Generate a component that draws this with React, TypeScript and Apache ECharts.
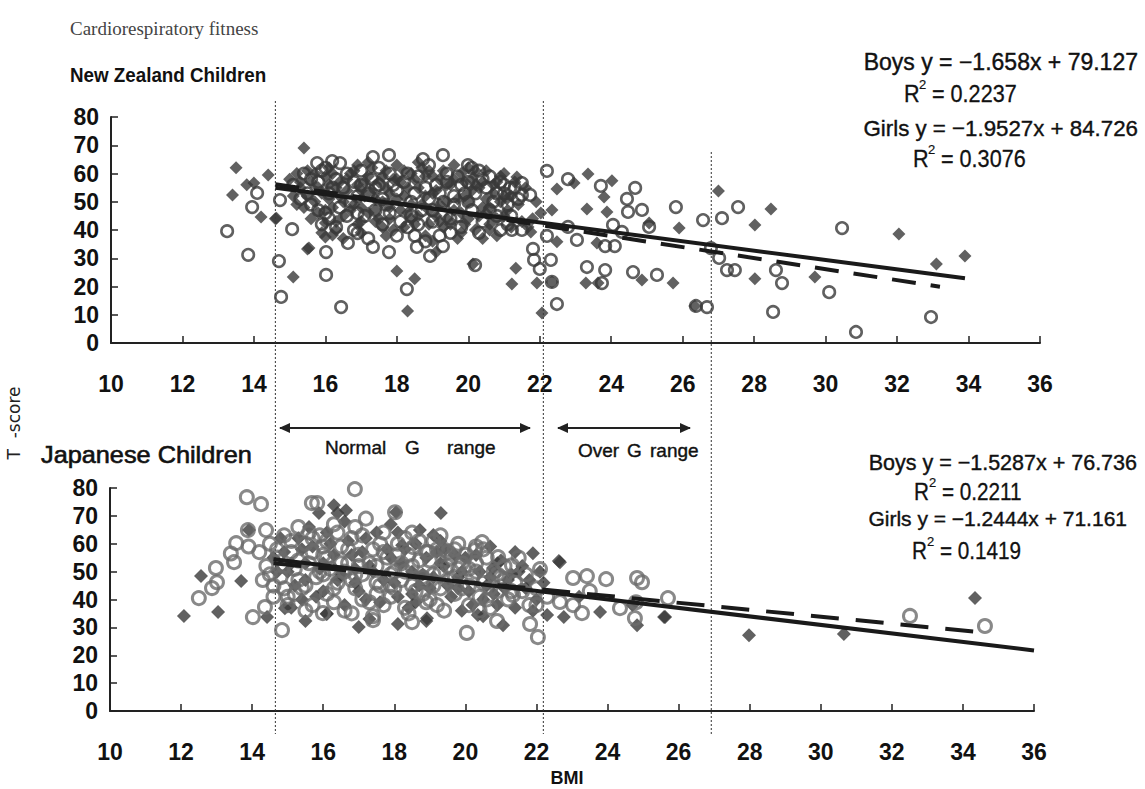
import React, { useEffect, useRef } from "react";
import * as echarts from "echarts";

// ---------- DATA ----------
// New Zealand children: [BMI, T-score]
const nzBoys: number[][] = [
  [13.5, 62], [13.4, 52.4], [13.8, 56], [14.2, 44.6], [14.6, 44], [14.4, 59.5], [14.0, 56.6],
  [15.4, 69], [15.1, 23.4], [15.5, 33.3], [16.0, 42.5], [16.0, 37.5], [16.2, 38.2],
  [18.0, 25.5], [18.5, 22.7], [18.3, 11.3], [19.1, 32.2], [21.36, 58.8], [21.08, 51],
  [22.48, 54.5], [23.35, 59.8], [22.96, 56.6], [24.02, 57.4], [23.8, 51.7], [23.32, 47.4],
  [22.34, 47.1], [23.88, 46.4], [22.03, 46], [22.48, 35.8], [23.6, 35.4], [21.33, 26.5],
  [21.22, 20.9], [21.92, 21.2], [22.34, 21.6], [22.06, 10.6], [23.29, 21.2], [23.63, 21.2],
  [24.86, 22.3], [25.73, 21.2], [25.9, 40.7], [25.06, 42.5], [27.0, 53.8], [28.47, 47.4],
  [28.02, 41.8], [28.02, 22.7], [29.7, 23.4], [26.34, 13.1], [20.13, 28.0], [21.67, 41.1],
  [21.75, 39.3], [32.05, 38.6], [33.1, 28.0], [33.9, 30.8], [14.63, 44.2], [15.54, 33.6],
  [15.0, 58], [15.2, 60], [15.3, 55], [15.5, 61], [15.6, 57], [15.7, 50], [15.8, 46], [15.6, 44],
  [15.9, 53], [16.0, 59], [16.1, 62], [16.2, 48], [16.3, 55], [16.4, 52], [16.5, 45], [16.6, 58],
  [16.7, 60], [16.8, 49], [16.9, 42], [17.0, 54], [17.1, 57], [17.2, 46], [17.3, 62], [17.4, 51],
  [17.5, 44], [17.6, 59], [17.7, 55], [17.8, 48], [17.9, 40], [18.0, 63], [18.1, 57], [18.2, 52],
  [18.3, 46], [18.4, 60], [18.5, 42], [18.6, 55], [18.7, 49], [18.8, 38], [18.9, 61], [19.0, 53],
  [19.1, 45], [19.2, 58], [19.3, 41], [19.4, 50], [19.5, 56], [19.6, 47], [19.7, 37], [19.8, 60],
  [19.9, 52], [20.0, 44], [20.1, 58], [20.2, 40], [20.3, 55], [20.4, 48], [20.5, 61], [20.6, 42],
  [20.7, 53], [20.8, 38], [20.9, 50], [21.0, 45], [21.2, 52], [21.5, 43], [21.8, 44], [16.5, 37],
  [17.0, 39], [17.4, 43], [18.2, 41], [19.0, 36], [19.8, 39], [20.4, 37], [15.4, 48], [16.1, 51],
  [17.8, 53], [18.8, 59], [19.6, 63], [20.2, 56], [20.8, 57], [15.1, 52], [16.3, 43], [17.6, 41],
  [17.2, 64], [18.0, 58], [19.4, 44], [20.5, 46], [16.9, 63], [18.6, 64], [20.0, 62], [21.0, 60],
  [15.2, 49], [15.3, 57], [15.5, 52], [15.7, 60], [15.8, 55], [16.0, 47], [16.1, 56], [16.2, 60],
  [16.4, 57], [16.5, 50], [16.6, 54], [16.7, 47], [16.8, 61], [16.9, 56], [17.0, 48], [17.1, 52],
  [17.2, 59], [17.3, 54], [17.4, 47], [17.5, 57], [17.6, 50], [17.7, 61], [17.8, 44], [17.9, 58],
  [18.0, 51], [18.1, 47], [18.2, 61], [18.3, 55], [18.4, 49], [18.5, 58], [18.6, 45], [18.7, 62],
  [18.8, 52], [18.9, 47], [19.0, 59], [19.1, 54], [19.2, 49], [19.3, 61], [19.4, 56], [19.5, 42],
  [19.6, 58], [19.7, 51], [19.8, 46], [19.9, 57], [20.0, 50], [20.1, 54], [20.2, 61], [20.3, 45],
  [20.4, 57], [20.5, 51], [20.6, 48], [20.7, 56], [20.8, 44], [20.9, 59], [21.0, 52], [21.1, 47],
  [21.3, 57], [21.4, 49], [21.6, 55], [21.9, 50], [16.3, 40], [17.0, 43], [17.7, 38], [18.4, 44],
  [19.2, 43], [19.9, 42], [20.6, 40], [21.2, 41], [15.9, 39], [18.9, 42]
];
const nzGirls: number[][] = [
  [13.25, 39.6], [13.84, 31.2], [13.95, 48.1], [14.09, 53.1], [14.7, 29], [14.76, 16.3],
  [15.07, 40.3], [16.02, 32.2], [16.02, 24.1], [16.44, 12.7], [16.63, 35.4], [17.33, 34],
  [17.78, 32.2], [18.28, 19.1], [18.56, 34], [18.93, 30.8], [19.29, 34.3], [16.9, 38.9],
  [17.33, 65.8], [17.78, 66.5], [18.73, 65.1], [19.29, 66.5], [15.77, 63.7], [16.19, 64.4],
  [16.41, 63.7], [14.73, 50.6], [19.99, 63], [22.2, 60.9], [22.79, 58], [23.71, 55.6],
  [24.67, 54.9], [24.44, 51], [24.47, 46.4], [24.86, 47.1], [25.06, 41.1], [24.05, 41.8],
  [24.3, 39.3], [23.83, 34.3], [24.1, 34.3], [25.81, 48.1], [26.57, 43.5], [27.1, 44.2],
  [27.55, 48.1], [26.79, 33.6], [27.02, 30.1], [27.24, 25.8], [27.46, 25.8], [28.61, 25.8],
  [28.78, 21.2], [28.53, 11.0], [26.68, 12.7], [26.37, 13.1], [25.28, 24.1], [24.61, 25.1],
  [23.83, 25.8], [23.74, 21.2], [23.32, 26.9], [22.48, 13.8], [22.34, 21.6], [22.31, 29.4],
  [21.81, 33.3], [21.84, 29.4], [22.0, 26.2], [22.2, 37.9], [22.79, 41.1], [23.04, 36.5],
  [21.22, 40], [21.5, 40], [20.19, 27.6], [21.5, 52.4], [21.73, 52.4], [21.17, 54.9],
  [21.5, 56.6], [30.46, 40.7], [30.1, 18], [30.85, 3.9], [32.95, 9.2],
  [15.3, 51], [15.6, 58], [15.9, 61], [16.2, 55], [16.4, 48], [16.6, 60], [16.9, 52], [17.1, 45],
  [17.3, 58], [17.5, 62], [17.7, 49], [17.9, 56], [18.1, 43], [18.3, 60], [18.5, 53], [18.7, 47],
  [18.9, 63], [19.1, 56], [19.3, 50], [19.5, 44], [19.7, 59], [19.9, 53], [20.1, 47], [20.3, 61],
  [20.5, 55], [20.7, 50], [20.9, 57], [21.1, 49], [21.3, 55], [16.0, 46], [16.8, 40], [17.4, 47],
  [18.0, 38], [18.6, 42], [19.2, 38], [19.8, 41], [20.4, 43], [20.8, 45], [15.5, 53], [17.0, 56],
  [18.4, 50], [19.6, 49], [20.0, 57], [17.8, 46], [16.3, 41], [18.8, 36], [21.0, 53], [19.4, 60],
  [20.6, 59], [15.8, 47],
  [15.1, 56], [15.4, 60], [15.6, 49], [15.8, 57], [16.0, 62], [16.1, 53], [16.3, 58], [16.5, 55],
  [16.7, 50], [16.8, 57], [17.0, 61], [17.2, 53], [17.4, 55], [17.6, 51], [17.8, 60], [18.0, 54],
  [18.2, 57], [18.4, 45], [18.6, 59], [18.8, 55], [19.0, 47], [19.2, 53], [19.4, 57], [19.6, 52],
  [19.8, 56], [20.0, 50], [20.2, 53], [20.4, 58], [20.6, 47], [20.8, 53], [21.0, 56], [21.2, 45],
  [21.4, 51], [16.1, 44], [16.9, 46], [17.6, 42], [18.3, 41], [19.0, 43], [19.7, 45], [20.3, 39],
  [21.1, 42], [17.2, 37], [18.5, 38], [19.5, 39], [20.9, 40], [15.9, 42], [17.5, 56], [18.9, 51],
  [20.1, 62], [16.6, 45]
];

// Japanese children: [BMI, T-score]
const jpBoys: number[][] = [
  [12.08, 34.1], [13.04, 35.5], [12.56, 48.4], [13.69, 46.6], [13.91, 64.9], [14.42, 33.7],
  [16.3, 73.8], [16.64, 72], [15.88, 71], [18.05, 71.3], [17.0, 30.1], [18.1, 31.2], [15.5, 32.3],
  [14.92, 36.9], [18.22, 59.5], [18.72, 64.9], [18.9, 32.3], [19.1, 63.1], [19.31, 71],
  [19.43, 58], [16.1, 34.8], [22.63, 53.8], [21.9, 56.6], [21.4, 57], [20.78, 51.3], [23.79, 35.5],
  [22.77, 33.7], [22.3, 34.4], [25.59, 33.7], [24.83, 30.8], [20.35, 34.4], [21.06, 30.8],
  [18.92, 33.3], [27.98, 27.2], [25.62, 33.7], [22.66, 53.4], [30.65, 27.6], [34.34, 40.5],
  [14.6, 55], [14.8, 62], [15.0, 50], [15.2, 45], [15.4, 58], [15.6, 66], [15.8, 41], [16.0, 53],
  [16.2, 60], [16.4, 47], [16.6, 68], [16.8, 56], [17.0, 43], [17.2, 62], [17.4, 50], [17.6, 39],
  [17.8, 58], [18.0, 46], [18.2, 53], [18.4, 37], [18.6, 60], [18.8, 49], [19.0, 44], [19.2, 57],
  [19.4, 52], [19.6, 41], [19.8, 48], [20.0, 55], [20.2, 38], [20.4, 50], [20.6, 45], [20.8, 42],
  [21.0, 54], [21.2, 47], [21.5, 50], [21.7, 44], [22.0, 40], [22.2, 46], [15.1, 37], [16.1, 35],
  [17.3, 33], [18.5, 42], [19.9, 36], [20.9, 38], [21.9, 36], [15.5, 53], [16.9, 51], [18.1, 64],
  [19.3, 61], [20.7, 59], [17.9, 67], [16.4, 71], [24.7, 38], [23.2, 41],
  [14.7, 50], [14.9, 57], [15.1, 53], [15.3, 62], [15.5, 47], [15.7, 59], [15.9, 51], [16.1, 64],
  [16.3, 56], [16.5, 49], [16.7, 61], [16.9, 46], [17.1, 57], [17.3, 52], [17.5, 64], [17.7, 47],
  [17.9, 55], [18.1, 41], [18.3, 58], [18.5, 50], [18.7, 45], [18.9, 55], [19.1, 48], [19.3, 53],
  [19.5, 45], [19.7, 56], [19.9, 50], [20.1, 43], [20.3, 56], [20.5, 40], [20.7, 48], [20.9, 53],
  [21.1, 44], [21.3, 49], [21.6, 52], [21.8, 47], [22.1, 50], [16.0, 43], [17.2, 40], [18.6, 39],
  [19.8, 44], [15.4, 40], [16.6, 38], [20.5, 34], [21.4, 37]
];
const jpGirls: number[][] = [
  [12.5, 40.5], [12.87, 44.1], [13.01, 46.2], [12.98, 51.3], [13.49, 53.4], [13.55, 60.2],
  [13.85, 76.7], [14.25, 74.2], [14.02, 33.7], [14.36, 37.3], [14.84, 29], [14.39, 64.9],
  [13.88, 64.9], [15.68, 74.6], [15.83, 74.6], [16.89, 79.6], [15.99, 35.1], [17.4, 32.6],
  [18.02, 71.3], [18.5, 31.9], [20.04, 28], [22.04, 26.5], [21.82, 31.2], [20.89, 32.3],
  [22.1, 50.9], [23.03, 47.7], [23.42, 48.4], [23.96, 47.3], [24.83, 47.7], [24.97, 46.2],
  [25.7, 40.5], [24.35, 36.9], [24.77, 33.3], [23.28, 35.1], [22.66, 39.1], [23.03, 38],
  [20.47, 60.6], [20.27, 57.7], [20.92, 55.2], [21.31, 52.3], [21.34, 41.6], [19.43, 57.7],
  [18.53, 58.8], [18.95, 57], [32.51, 34.1], [34.62, 30.5], [13.4, 56.5], [13.9, 59],
  [14.2, 57], [14.4, 52], [14.5, 60], [14.6, 45], [14.7, 55], [14.8, 48], [14.9, 63], [15.0, 41],
  [15.1, 57], [15.2, 51], [15.3, 66], [15.4, 44], [15.5, 60], [15.6, 53], [15.7, 38], [15.8, 48],
  [15.9, 63], [16.0, 56], [16.1, 42], [16.2, 51], [16.3, 67], [16.4, 46], [16.5, 59], [16.6, 36],
  [16.7, 53], [16.8, 62], [16.9, 44], [17.0, 56], [17.1, 49], [17.2, 69], [17.3, 39], [17.4, 58],
  [17.5, 52], [17.6, 45], [17.7, 64], [17.8, 55], [17.9, 41], [18.0, 50], [18.1, 60], [18.2, 47],
  [18.3, 37], [18.4, 56], [18.5, 52], [18.6, 43], [18.7, 61], [18.8, 48], [18.9, 39], [19.0, 54],
  [19.1, 45], [19.2, 58], [19.3, 50], [19.4, 36], [19.5, 47], [19.6, 55], [19.7, 42], [19.8, 51],
  [19.9, 44], [20.0, 56], [20.1, 38], [20.2, 48], [20.3, 53], [20.4, 41], [20.5, 46], [20.6, 55],
  [20.7, 37], [20.8, 50], [20.9, 43], [21.0, 48], [21.2, 40], [21.4, 46], [21.6, 43], [21.8, 38],
  [22.0, 44], [22.3, 41], [14.3, 47], [14.9, 52], [15.3, 47], [15.7, 57], [16.0, 49], [16.4, 64],
  [16.8, 47], [17.1, 40], [17.6, 60], [18.0, 44], [18.5, 64], [18.9, 57], [19.3, 63], [19.8, 60],
  [20.3, 59], [15.2, 42], [16.1, 61], [17.0, 52], [18.2, 53], [19.5, 52], [16.6, 50], [17.9, 49],
  [19.1, 49], [20.1, 51], [15.5, 36], [16.8, 35], [18.4, 35], [20.4, 36], [17.4, 34], [19.0, 40],
  [21.1, 52], [21.5, 55], [24.8, 39], [23.5, 43],
  [14.5, 49], [14.7, 58], [14.9, 44], [15.1, 61], [15.3, 54], [15.5, 45], [15.7, 62], [15.9, 50],
  [16.1, 55], [16.3, 44], [16.5, 53], [16.7, 58], [16.9, 49], [17.1, 63], [17.3, 53], [17.5, 46],
  [17.7, 57], [17.9, 45], [18.1, 56], [18.3, 50], [18.5, 45], [18.7, 54], [18.9, 46], [19.1, 61],
  [19.3, 44], [19.5, 57], [19.7, 48], [19.9, 53], [20.1, 45], [20.3, 50], [20.5, 58], [20.7, 44],
  [20.9, 49], [21.1, 47], [21.3, 43], [21.7, 49], [22.0, 38], [15.0, 38], [16.3, 39], [17.7, 38],
  [19.2, 38], [20.6, 40], [14.6, 41], [15.6, 64], [16.9, 66], [18.3, 62], [19.7, 58], [17.5, 42],
  [18.8, 42], [16.0, 59]
];

// Regression lines: [slope, intercept, xStart, xEnd]
const nzBoysFit = [-1.658, 79.127, 14.6, 33.9];
const nzGirlsFit = [-1.9527, 84.726, 14.6, 33.2];
const jpBoysFit = [-1.5287, 76.736, 14.6, 36];
const jpGirlsFit = [-1.2444, 71.161, 14.6, 34.4];

// BMI range cut-offs (dotted verticals)
const cutoffs = [14.6, 22.1, 26.8];

const xMin = 10, xMax = 36, xStep = 2;
const yMin = 0, yMax = 80, yStep = 10;

// ---------- STYLE ----------
const SANS = "'Liberation Sans', Arial, sans-serif";
const DARK = "#3a3a3a";

const fitLine = (f: number[]) => [
  [f[2], f[0] * f[2] + f[1]],
  [f[3], f[0] * f[3] + f[1]],
];

function xAxisCfg(gridIndex: number) {
  return {
    type: "value", gridIndex, min: xMin, max: xMax, interval: xStep,
    axisLine: { show: true, onZero: false, lineStyle: { color: "#222", width: 2 } },
    axisTick: { show: true, inside: true, length: 7, lineStyle: { color: "#222", width: 1.5 } },
    axisLabel: { fontSize: 23, fontWeight: "bold", fontFamily: SANS, color: "#111", margin: 29 },
    splitLine: { show: false },
  };
}
function yAxisCfg(gridIndex: number) {
  return {
    type: "value", gridIndex, min: yMin, max: yMax, interval: yStep,
    axisLine: { show: true, onZero: false, lineStyle: { color: "#222", width: 2 } },
    axisTick: { show: true, inside: true, length: 7, lineStyle: { color: "#222", width: 1.5 } },
    axisLabel: { fontSize: 23, fontWeight: "bold", fontFamily: SANS, color: "#111", margin: 12 },
    splitLine: { show: false },
  };
}

function diamonds(data: number[][], idx: number, size: number) {
  return {
    type: "scatter", xAxisIndex: idx, yAxisIndex: idx, data,
    symbol: "diamond", symbolSize: size,
    itemStyle: { color: DARK, borderWidth: 0 }, z: 2,
  };
}
function circles(data: number[][], idx: number, color: string, size: number, bw: number) {
  return {
    type: "scatter", xAxisIndex: idx, yAxisIndex: idx, data,
    symbol: "circle", symbolSize: size,
    itemStyle: { color: "rgba(0,0,0,0)", borderColor: color, borderWidth: bw }, z: 3,
  };
}
function trend(f: number[], idx: number, dashed: boolean, dash: number[]) {
  return {
    type: "line", xAxisIndex: idx, yAxisIndex: idx, data: fitLine(f),
    symbol: "none", silent: true, z: 5,
    lineStyle: { color: "#1a1a1a", width: 4, type: dashed ? dash : "solid" },
  };
}

function txt(x: number, y: number, text: string, size: number, opts: any = {}) {
  return {
    type: "text", x, y, z: 10,
    rotation: opts.rotation || 0,
    scaleX: opts.scaleX || 1,
    style: {
      text, fontSize: size, fontFamily: opts.family || SANS,
      fontWeight: opts.weight || "normal", fill: opts.color || "#111",
      stroke: opts.stroke ? (opts.color || "#111") : null,
      lineWidth: opts.stroke || 0,
      align: opts.align || "left", verticalAlign: "middle",
    },
  };
}
function r2(x: number, y: number, value: string, size: number) {
  return [
    txt(x, y, "R", size, { scaleX: 0.9, stroke: 0.3 }),
    txt(x + 15, y - 10, "2", 13, { stroke: 0.2 }),
    txt(x + 28, y, "= " + value, size, { scaleX: 0.9, stroke: 0.3 }),
  ];
}
function arrow(x1: number, x2: number, y: number) {
  return [
    { type: "line", shape: { x1, y1: y, x2, y2: y }, style: { stroke: "#222", lineWidth: 2 }, z: 10 },
    { type: "polygon", shape: { points: [[x1 - 1, y], [x1 + 10, y - 5], [x1 + 10, y + 5]] }, style: { fill: "#222" }, z: 10 },
    { type: "polygon", shape: { points: [[x2 + 1, y], [x2 - 10, y - 5], [x2 - 10, y + 5]] }, style: { fill: "#222" }, z: 10 },
  ];
}

export default function App() {
  const ref = useRef<HTMLDivElement>(null);
  useEffect(() => {
    const chart = echarts.init(ref.current!, null, { renderer: "svg" });
    const option: any = {
      animation: false,
      backgroundColor: "#fff",
      grid: [
        { left: 111, right: 105, top: 117, height: 226 },
        { left: 110, right: 111, top: 488, height: 223 },
      ],
      xAxis: [xAxisCfg(0), xAxisCfg(1)],
      yAxis: [yAxisCfg(0), yAxisCfg(1)],
      series: [
        diamonds(nzBoys, 0, 13),
        circles(nzGirls, 0, "#383838", 11.5, 2.6),
        trend(nzBoysFit, 0, false, []),
        trend(nzGirlsFit, 0, true, [24, 15]),
        diamonds(jpBoys, 1, 14),
        circles(jpGirls, 1, "#6b6b6b", 13, 3),
        trend(jpBoysFit, 1, false, []),
        trend(jpGirlsFit, 1, true, [28, 17]),
      ],
    };
    chart.setOption(option);

    const tops = [101, 101, 152];
    const dotted = cutoffs.map((c, i) => {
      const px = chart.convertToPixel({ xAxisIndex: 0 }, c) as number;
      return {
        type: "line", z: 1,
        shape: { x1: px, y1: tops[i], x2: px, y2: 734 },
        style: { stroke: "#333", lineWidth: 1, lineDash: [2, 2] },
      };
    });

    const graphic: any[] = [
      ...dotted,
      txt(70, 28, "Cardiorespiratory fitness", 19, { family: "'Liberation Serif', 'DejaVu Serif', serif", color: "#444" }),
      txt(70, 75, "New Zealand Children", 20, { weight: "bold", scaleX: 0.94 }),
      txt(41, 455, "Japanese Children", 23, { stroke: 0.6, scaleX: 1.1 }),
      txt(14, 423, "T  -score", 17, { family: "'DejaVu Sans', sans-serif", align: "center", rotation: Math.PI / 2, color: "#222" }),
      txt(567, 778, "BMI", 18, { weight: "bold", align: "center" }),
      txt(1138, 62, "Boys y = \u22121.658x + 79.127", 23, { align: "right", stroke: 0.4 }),
      ...r2(904, 94, "0.2237", 24),
      txt(1138, 128, "Girls y = \u22121.9527x + 84.726", 23, { align: "right", stroke: 0.4, scaleX: 0.97 }),
      ...r2(913, 159, "0.3076", 24),
      txt(1137, 463, "Boys y = \u22121.5287x + 76.736", 21.5, { align: "right", stroke: 0.4 }),
      ...r2(914, 492, "0.2211", 23),
      txt(1127, 518, "Girls y = \u22121.2444x + 71.161", 21, { align: "right", stroke: 0.4 }),
      ...r2(912, 551, "0.1419", 23),
      ...arrow(280, 530, 428),
      ...arrow(558, 690, 428),
      txt(325, 447, "Normal", 19, { stroke: 0.4 }),
      txt(405, 447, "G", 19, { stroke: 0.4 }),
      txt(447, 447, "range", 19, { stroke: 0.4 }),
      txt(578, 450, "Over", 19, { stroke: 0.4 }),
      txt(627, 450, "G", 19, { stroke: 0.4 }),
      txt(650, 450, "range", 19, { stroke: 0.4 }),
    ];
    chart.setOption({ graphic });
    return () => chart.dispose();
  }, []);
  return (
    <div
      ref={ref}
      style={{ position: "fixed", left: 0, top: 0, width: 1145, height: 789, background: "#fff" }}
    />
  );
}
